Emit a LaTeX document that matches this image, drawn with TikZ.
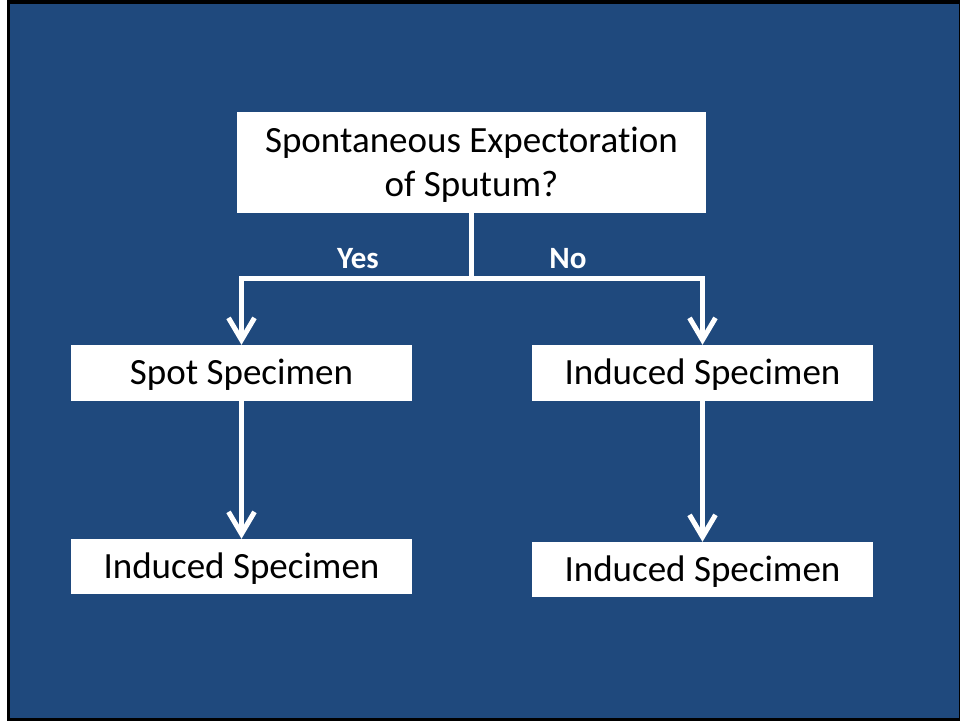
\documentclass[tikz,border=0pt]{standalone}
\usepackage{fontspec}
\setmainfont[Ligatures=NoCommon]{Carlito}
\usetikzlibrary{arrows.meta}
\definecolor{slideblue}{RGB}{31,73,125}
\tikzset{
  box/.style={draw=none, fill=white, text=black, inner sep=0pt, align=center,
    font=\fontsize{37}{44}\selectfont, text height=33pt, text depth=10pt},
  lbl/.style={text=white, font=\bfseries\fontsize{31}{36}\selectfont, inner sep=0pt},
  conn/.style={draw=white, line width=5pt},
  arr/.style={conn, -{Straight Barb[length=22pt,width=26pt]}}
}
\begin{document}
\begin{tikzpicture}[x=1pt,y=1pt]
\useasboundingbox (0,0) rectangle (960,721);
\fill[white] (0,0) rectangle (960,721);
\fill[black] (7,0) rectangle (960,721);
\fill[slideblue] (10,3) rectangle (959,717);
\node[box, minimum width=469pt, minimum height=101pt, text height=74pt, text depth=5pt] (top) at (471.5,558.5)
  {Spontaneous Expectoration\\of Sputum?};
\node[box, minimum width=341pt, minimum height=56pt] (spot) at (241.5,348) {Spot Specimen};
\node[box, minimum width=341pt, minimum height=56pt] (ind) at (702.5,348) {Induced Specimen};
\node[box, minimum width=341pt, minimum height=55pt] (bl) at (241.5,154.5) {Induced Specimen};
\node[box, minimum width=341pt, minimum height=55pt] (br) at (702.5,151.5) {Induced Specimen};
\coordinate (j) at (471.5,442);
\draw[conn] (top.south) -- (j);
\draw[arr] (j) -| (spot.north);
\draw[arr] (j) -| (ind.north);
\draw[arr] (spot.south) -- (bl.north);
\draw[arr] (ind.south) -- (br.north);
\node[lbl] (yes) at (358,462) {Yes};
\node[lbl] (no) at (568,462) {No};
\end{tikzpicture}
\end{document}
